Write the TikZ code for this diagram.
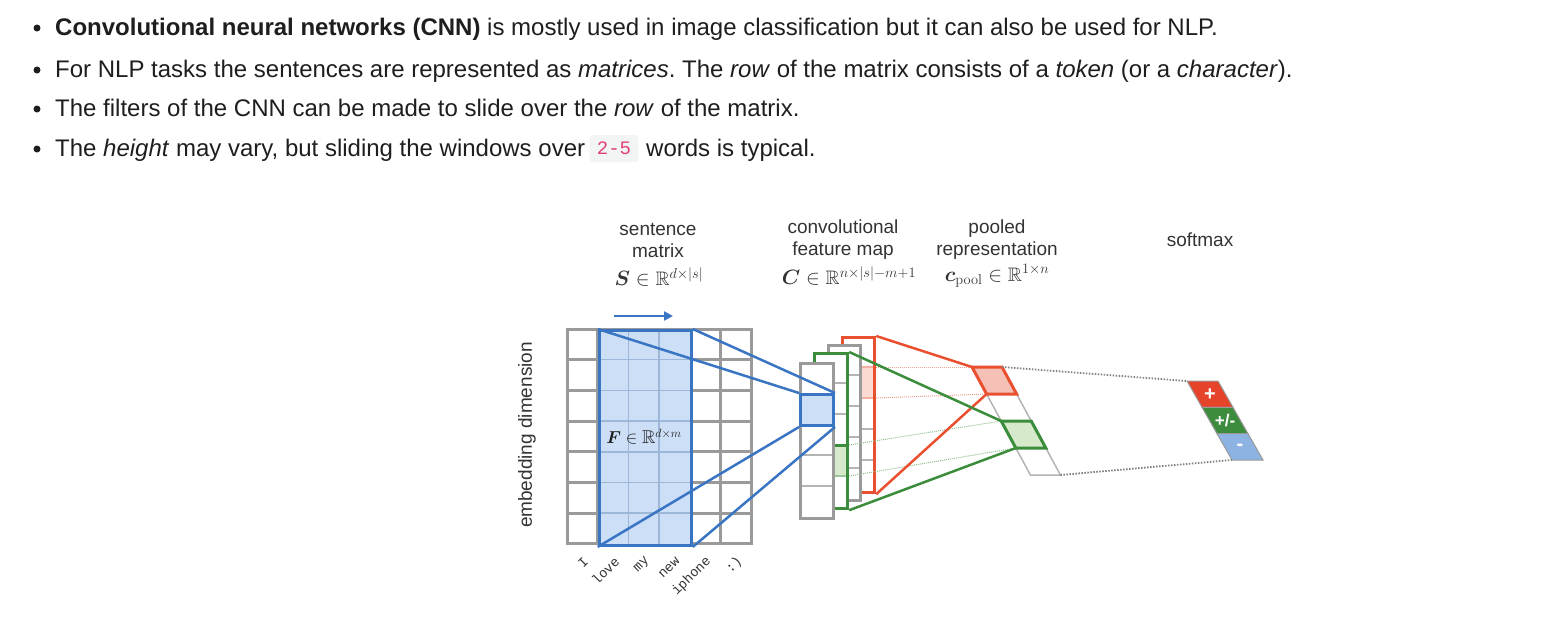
\documentclass[tikz,border=0pt]{standalone}
\usepackage{amsmath,amssymb,bm}
\usepackage[no-math]{fontspec}
\setmainfont{Liberation Sans}
\setmonofont{Liberation Mono}
\usetikzlibrary{arrows.meta,calc}
\definecolor{gridgray}{HTML}{9A9A9A}
\definecolor{lightgray}{HTML}{B4B4B4}
\definecolor{fblue}{HTML}{3A75C4}
\definecolor{ffill}{HTML}{CCDFF7}
\definecolor{finner}{HTML}{9DB7D8}
\definecolor{mred}{HTML}{E9502F}
\definecolor{redfill}{HTML}{F5C1B6}
\definecolor{redlight}{HTML}{FADAD3}
\definecolor{mgreen}{HTML}{3B8C3B}
\definecolor{greenfill}{HTML}{D6EACB}
\definecolor{smred}{HTML}{E6432B}
\definecolor{smgreen}{HTML}{3D8B3D}
\definecolor{smblue}{HTML}{8DB3E2}
\definecolor{codepink}{HTML}{E0407A}
\definecolor{codebg}{HTML}{F3F4F4}
\definecolor{txt}{HTML}{1E1E1E}
\definecolor{lbl}{HTML}{333333}
\frenchspacing
\begin{document}
\begin{tikzpicture}[x=1pt,y=-1pt,
  body/.style={anchor=base west,inner sep=0,text=txt,font=\frenchspacing\fontsize{24}{28}\selectfont},
  lab/.style={align=center,text=lbl,inner sep=0,font=\fontsize{19}{22}\selectfont},
  mlab/.style={text=lbl,inner sep=0,font=\fontsize{19.5}{22}\selectfont},
  word/.style={rotate=45,anchor=east,inner sep=0,text=lbl,font=\ttfamily\fontsize{13.5}{15}\selectfont},
  gline/.style={draw=gridgray,line width=3},
  thinl/.style={draw=lightgray,line width=1.2},
  bline/.style={draw=fblue,line width=2.5},
  rline/.style={draw=mred,line width=2.5},
  gnline/.style={draw=mgreen,line width=2.5},
  colbox/.style={minimum width=32,minimum height=155,inner sep=0,anchor=north west,line width=3.2},
  fdot/.style={densely dotted,line width=1},
  ddot/.style={dash pattern=on 1.5pt off 1.5pt,draw=gray,line width=1.8},
  smtxt/.style={text=white,font=\bfseries\fontsize{20}{22}\selectfont,inner sep=0}]
\useasboundingbox (0,0) rectangle (1544,630);

% ---------- bullet text ----------
\foreach \yy in {28,70,109,149} \fill[txt] (37,\yy) circle (3.5);
\node[body] (t1) at (55,35) {\textbf{Convolutional neural networks (CNN)} is mostly used in image classification but it can also be used for NLP.};
\node[body] (t2) at (55,77) {For NLP tasks the sentences are represented as \textit{matrices}. The \textit{row} of the matrix consists of a \textit{token} (or a \textit{character}).};
\node[body] (t3) at (55,116) {The filters of the CNN can be made to slide over the \textit{row} of the matrix.};
\node[body] (t4) at (55,156) {The \textit{height} may vary, but sliding the windows over};
\node[fill=codebg,rounded corners=3,minimum width=49,minimum height=27,inner sep=0,text=codepink,font=\ttfamily\fontsize{19}{22}\selectfont] (code) at (614,148.5) {2-5};
\node[body] (t5) at (646,156) {words is typical.};

% ---------- header labels ----------
\node[lab] (hs) at (658,240) {sentence\\matrix};
\node[lab] (hc) at (843,240) {convolutional\\feature map};
\node[lab] (hp) at (997,240) {pooled\\representation};
\node[lab] (hsm) at (1200,240) {softmax};
\node[mlab] (ms) at (659,277) {$\bm{S}\in\mathbb{R}^{d\times|s|}$};
\node[mlab] (mc) at (849,276) {$\bm{C}\in\mathbb{R}^{n\times|s|-m+1}$};
\node[mlab] (mp) at (997,276) {$\bm{c}_{\mathrm{pool}}\in\mathbb{R}^{1\times n}$};

\node[lab,rotate=90] (emb) at (527,435) {embedding dimension};

% ---------- sentence matrix ----------
\fill[white] (567,329) rectangle (751.2,543.9);
\foreach \i in {1,...,5} \draw[gline] ({567+30.7*\i},329) -- ({567+30.7*\i},543.9);
\foreach \j in {1,...,6} \draw[gline] (567,{329+30.7*\j}) -- (751.2,{329+30.7*\j});
\draw[gline,line join=miter] (567,329) rectangle (751.2,543.9);
% filter
\fill[ffill] (597.7,329) rectangle (689.8,543.9);
\foreach \i in {2,3} \draw[draw=finner,line width=1.5] ({567+30.7*\i},329) -- ({567+30.7*\i},543.9);
\foreach \j in {1,...,6} \draw[draw=finner,line width=1.5] (597.7,{329+30.7*\j}) -- (689.8,{329+30.7*\j});
\node[draw=fblue,line width=3,minimum width=92.1,minimum height=214.9,inner sep=0,anchor=north west] (filt) at (597.7,329) {};
\node[text=txt,inner sep=0,font=\fontsize{18.5}{21}\selectfont] (flab) at (644,437) {$\bm{F}\in\mathbb{R}^{d\times m}$};
% slide arrow
\coordinate (a1) at (614,316);
\coordinate (a2) at (673,316);
\draw[draw=fblue,line width=2.5,-{Triangle[length=9,width=9]}] (a1) -- (a2);
% words
\node[word] (w1) at (586,559) {I};
\node[word] (w2) at (617,559) {love};
\node[word] (w3) at (648,559) {my};
\node[word] (w4) at (678,559) {new};
\node[word] (w5) at (709,559) {iphone};
\node[word] (w6) at (740,559) {:)};

% ---------- feature map columns (back to front) ----------
% red
\fill[white] (841,336) rectangle ++(32,155);
\fill[redlight] (841,367) rectangle ++(32,31);
\draw[draw=mred!45,line width=1.5] (841,367) -- ++(32,0) (841,398) -- ++(32,0);
\foreach \k in {3,4} \draw[thinl] (841,{336+31*\k}) -- ++(32,0);
\node[colbox,draw=mred] (redcol) at (841,336) {};
% middle grey
\fill[white] (827,344) rectangle ++(32,155);
\foreach \k in {1,...,4} \draw[thinl] (827,{344+31*\k}) -- ++(32,0);
\node[colbox,draw=gridgray,line width=3] (graycol) at (827,344) {};
% green
\fill[white] (813,352) rectangle ++(33,155);
\fill[greenfill] (813,445) rectangle ++(33,31);
\foreach \k in {1,2,4} \draw[thinl] (813,{352+31*\k}) -- ++(33,0);
\draw[draw=mgreen,line width=3] (813,445) -- ++(33,0);
\draw[draw=mgreen!50,line width=1.5] (813,476) -- ++(33,0);
\node[colbox,minimum width=33,draw=mgreen] (greencol) at (813,352) {};
% front grey
\fill[white] (799,362) rectangle ++(33,155);
\foreach \k in {2,3,4} \draw[thinl] (799,{362+31*\k}) -- ++(33,0);
\node[colbox,minimum width=33,draw=gridgray,line width=3] (frontcol) at (799,362) {};
\node[draw=fblue,fill=ffill,line width=3,minimum width=33,minimum height=31,inner sep=0,anchor=north west] (bcell) at (799,393) {};

% ---------- pooled representation ----------
\foreach \i in {0,...,4} {
  \coordinate (pL\i) at ({972+14.6*\i},{367+27*\i});
  \coordinate (pR\i) at ({1002+14.6*\i},{367+27*\i});
}
\draw[draw=lightgray,line width=1.5] (pL0) -- (pR0) -- (pR4) -- (pL4) -- cycle;
\foreach \i in {1,3} \draw[draw=lightgray,line width=1.5] (pL\i) -- (pR\i);
\filldraw[fill=redfill,draw=mred,line width=3,line join=miter] (pL0) -- (pR0) -- (pR1) -- (pL1) -- cycle;
\filldraw[fill=greenfill,draw=mgreen,line width=3,line join=miter] (pL2) -- (pR2) -- (pR3) -- (pL3) -- cycle;

% ---------- softmax ----------
\foreach \i in {0,...,3} {
  \coordinate (sL\i) at ({1187+15*\i},{381+26.33*\i});
  \coordinate (sR\i) at ({1218+15*\i},{381+26.33*\i});
}
\filldraw[fill=smred,draw=gridgray,line width=1] (sL0) -- (sR0) -- (sR1) -- (sL1) -- cycle;
\filldraw[fill=smgreen,draw=gridgray,line width=1] (sL1) -- (sR1) -- (sR2) -- (sL2) -- cycle;
\filldraw[fill=smblue,draw=gridgray,line width=1] (sL2) -- (sR2) -- (sR3) -- (sL3) -- cycle;
\node[smtxt] (plus) at ($(sL0)!0.5!(sR1)$) {+};
\node[smtxt,font=\bfseries\fontsize{17}{19}\selectfont] (pm) at ($(sL1)!0.5!(sR2)$) {+/-};
\node[smtxt] (minus) at ($(sL2)!0.5!(sR3)$) {-};

% ---------- dotted links ----------
\draw[ddot] (pR0) -- (sL0);
\draw[ddot] (pR4) -- (sL3);
\draw[fdot,draw=mred!55] ($(redcol.north east)+(0,31)$) -- (pL0);
\draw[fdot,draw=mred!55] ($(redcol.north east)+(0,62)$) -- (pL1);
\draw[fdot,draw=mgreen!55] ($(greencol.north east)+(0,93)$) -- (pL2);
\draw[fdot,draw=mgreen!55] ($(greencol.north east)+(0,124)$) -- (pL3);

% ---------- connectors ----------
\draw[bline] (filt.north west) -- (bcell.north west);
\draw[bline] (filt.north east) -- (bcell.north east);
\draw[bline] (filt.south west) -- (bcell.south west);
\draw[bline] (filt.south east) -- (bcell.south east);
\draw[rline] (redcol.north east) -- (pL0);
\draw[rline] (redcol.south east) -- (pL1);
\draw[gnline] (greencol.north east) -- (pL2);
\draw[gnline] (greencol.south east) -- (pL3);
\end{tikzpicture}
\end{document}
